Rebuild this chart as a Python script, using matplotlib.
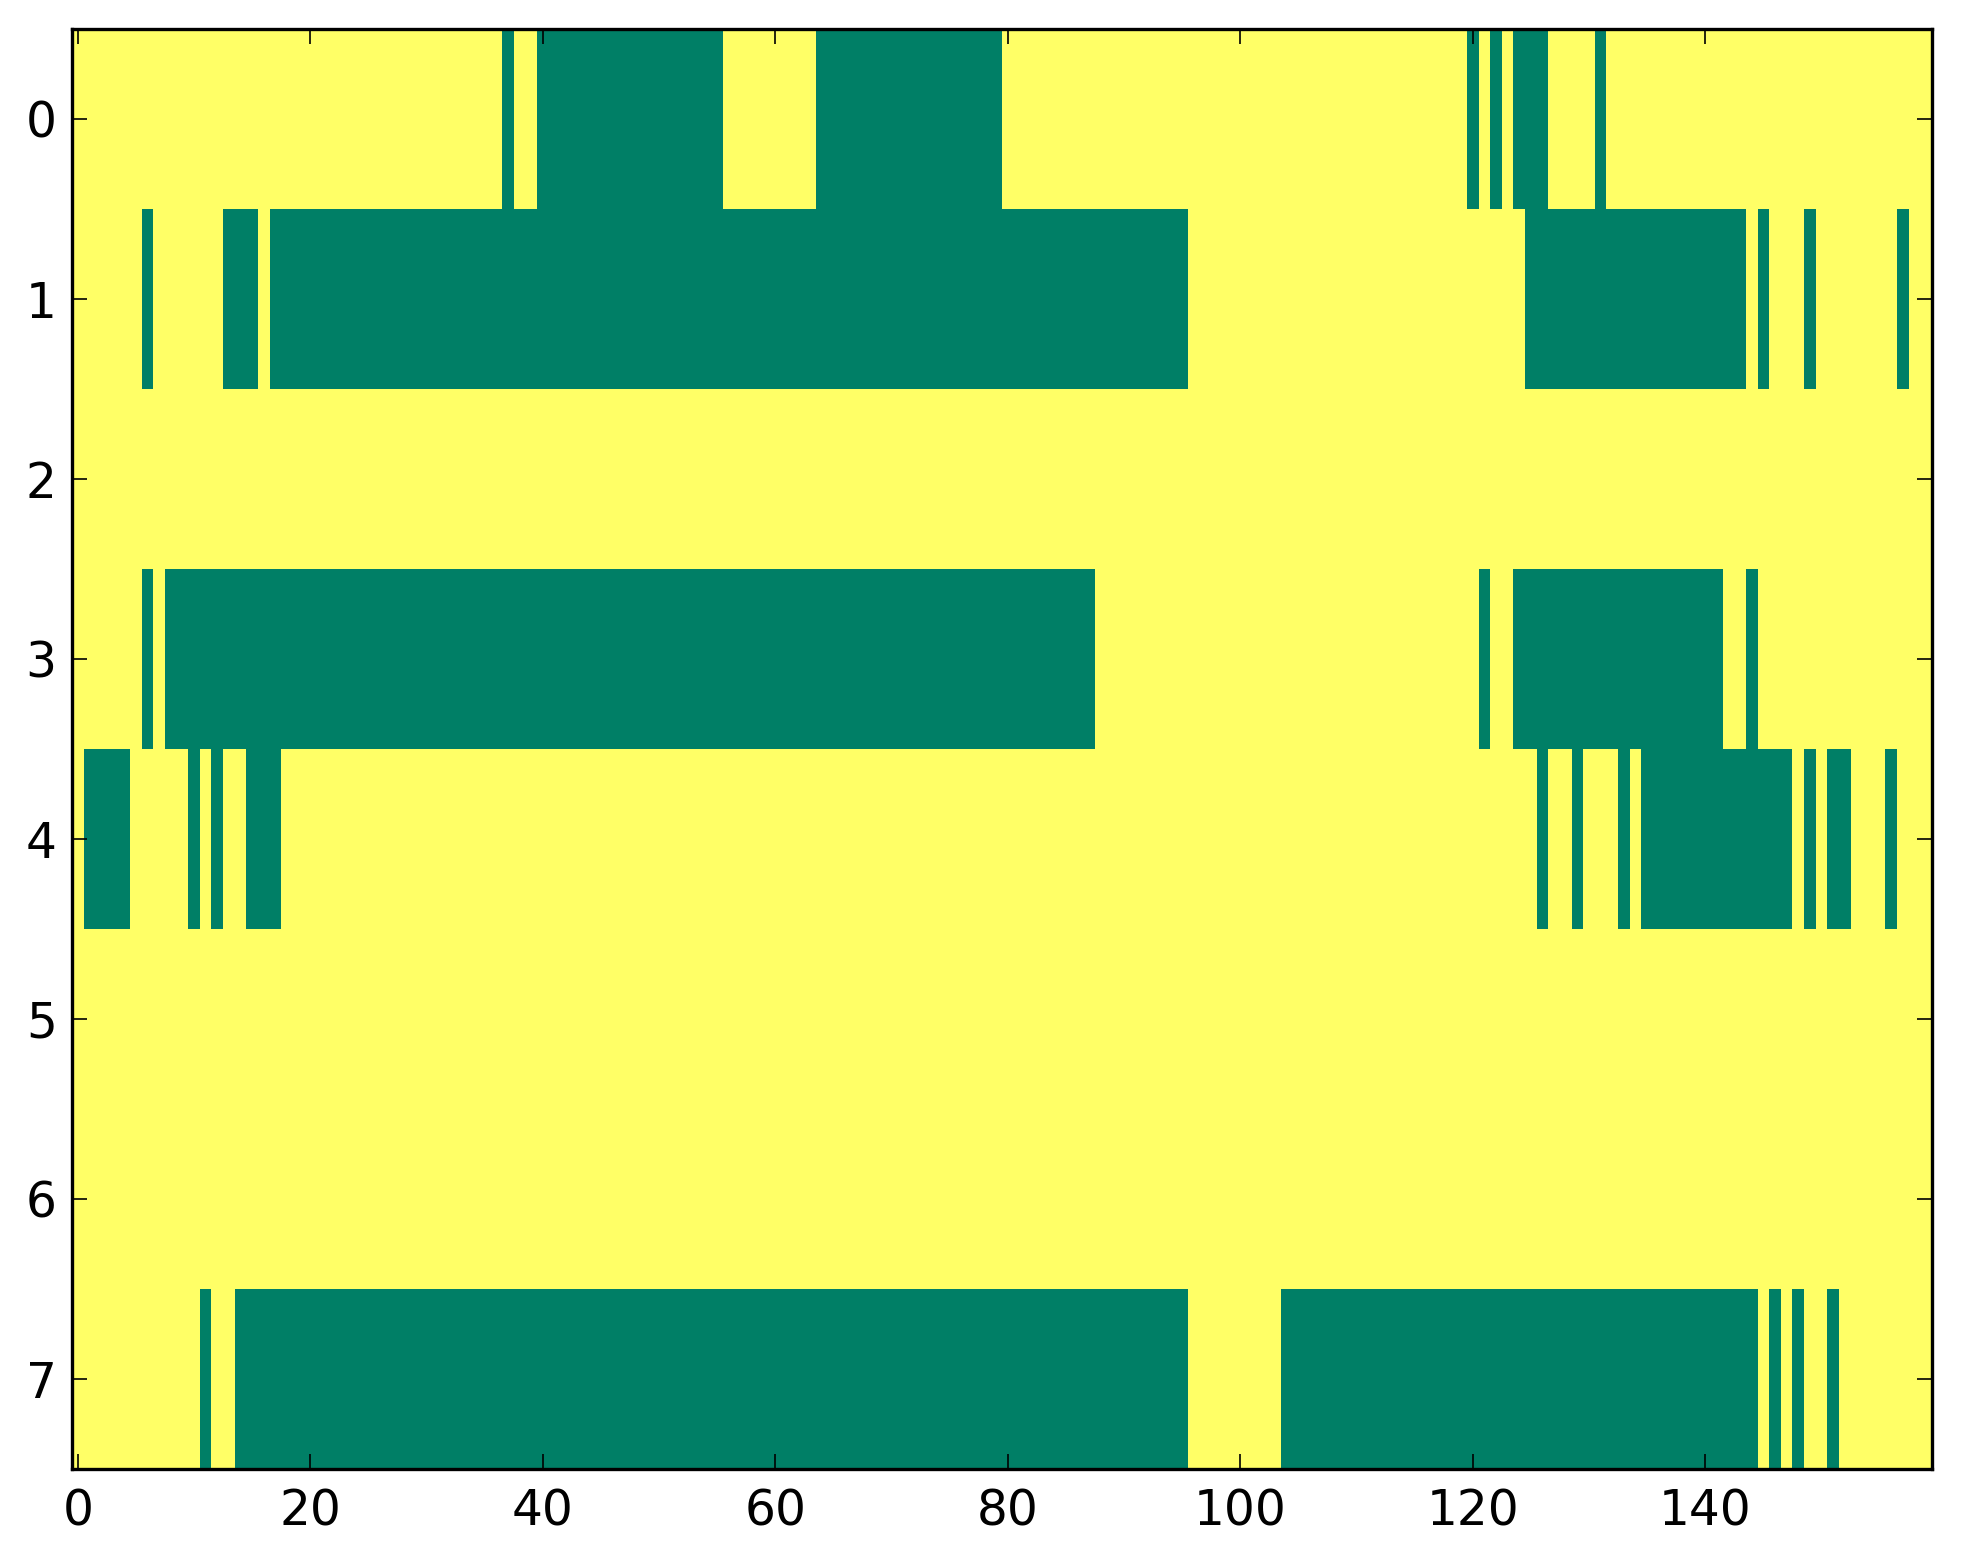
import numpy as np
import matplotlib
matplotlib.use('Agg')
import matplotlib.pyplot as plt

# 8 rows x 160 columns, 1 = yellow, 0 = green
n_rows = 8
n_cols = 160

# green runs per row, (first column, last column) inclusive
row0 = [(37, 37), (40, 55), (64, 79), (120, 120), (122, 122), (124, 126), (131, 131)]
row1 = [(6, 6), (13, 15), (17, 95), (125, 143), (145, 145), (149, 149), (157, 157)]
row2 = []
row3 = [(6, 6), (8, 87), (121, 121), (124, 141), (144, 144)]
row4 = [(1, 4), (10, 10), (12, 12), (15, 17), (126, 126), (129, 129), (133, 133),
        (135, 147), (149, 149), (151, 152), (156, 156)]
row5 = []
row6 = []
row7 = [(11, 11), (14, 95), (104, 144), (146, 146), (148, 148), (151, 151)]

rows = [row0, row1, row2, row3, row4, row5, row6, row7]
xticks = [0, 20, 40, 60, 80, 100, 120, 140]
yticks = list(range(n_rows))

grid = np.ones((n_rows, n_cols))
for r, runs in enumerate(rows):
    for a, b in runs:
        grid[r, a:b + 1] = 0

W, H = 1963, 1564
fig = plt.figure(figsize=(W / 100, H / 100), dpi=100)
ax = fig.add_axes([72 / W, 1 - 1469 / H, (1932 - 72) / W, (1469 - 29) / H])
ax.imshow(grid, cmap='summer', aspect='auto', interpolation='nearest')

ax.set_xticks(xticks)
ax.set_yticks(yticks)
ax.tick_params(direction='in', top=True, right=True, length=11, width=1.2,
               labelsize=35)
ax.tick_params(axis='x', pad=13)
ax.tick_params(axis='y', pad=11)
for s in ax.spines.values():
    s.set_linewidth(2.4)

fig.savefig('out.png', dpi=100)
